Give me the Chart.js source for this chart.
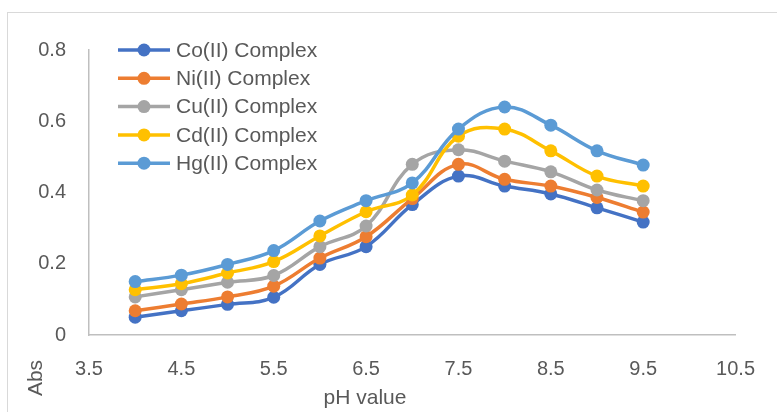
<!DOCTYPE html>
<html>
<head>
<meta charset="utf-8">
<script src="https://cdn.jsdelivr.net/npm/chart.js@4"></script>
<style>
  body { margin: 0; background: #fff; overflow: hidden; }
  #frame { position: absolute; left: 7px; top: 12px; width: 800px; height: 420px; border: 1px solid #d9d9d9; }
  #wrap { position: absolute; left: 0; top: 0; width: 777px; height: 412px; }
</style>
</head>
<body>
<div id="frame"></div>
<div id="wrap"><canvas id="chart" width="777" height="412"></canvas></div>
<script>
// pH values (x) and absorbance for each complex
const phValues = [4, 4.5, 5, 5.5, 6, 6.5, 7, 7.5, 8, 8.5, 9, 9.5];
const coAbs = [0.05, 0.068, 0.086, 0.106, 0.198, 0.248, 0.366, 0.446, 0.418, 0.396, 0.357, 0.317];
const niAbs = [0.068, 0.087, 0.107, 0.137, 0.216, 0.276, 0.383, 0.479, 0.437, 0.418, 0.386, 0.345];
const cuAbs = [0.107, 0.127, 0.148, 0.167, 0.248, 0.306, 0.479, 0.52, 0.488, 0.458, 0.407, 0.377];
const cdAbs = [0.127, 0.144, 0.174, 0.206, 0.278, 0.346, 0.393, 0.558, 0.578, 0.517, 0.446, 0.418];
const hgAbs = [0.15, 0.168, 0.198, 0.237, 0.32, 0.377, 0.427, 0.578, 0.64, 0.589, 0.517, 0.477];

const seriesNames = ["Co(II) Complex", "Ni(II) Complex", "Cu(II) Complex", "Cd(II) Complex", "Hg(II) Complex"];
const seriesColors = ["#4472C4", "#ED7D31", "#A5A5A5", "#FFC000", "#5B9BD5"];
const seriesValues = [coAbs, niAbs, cuAbs, cdAbs, hgAbs];

const xTicks = [3.5, 4.5, 5.5, 6.5, 7.5, 8.5, 9.5, 10.5];
const yTicks = [0, 0.2, 0.4, 0.6, 0.8];

const textColor = "#595959";
const tickFont = "'Liberation Sans Narrow', 'Arial Narrow', 'Liberation Sans', sans-serif";

const datasets = seriesValues.map((vals, i) => ({
    label: seriesNames[i],
    data: vals.map((v, j) => ({x: phValues[j], y: v})),
    borderColor: seriesColors[i],
    backgroundColor: seriesColors[i],
    borderWidth: 3.5,
    pointRadius: 6.5,
    pointBorderWidth: 0,
    tension: 0.4,
    order: seriesValues.length - i
}));

// legend + axis titles drawn inside the plot like Excel does
const overlay = {
    id: "overlay",
    afterDraw(chart) {
        const ctx = chart.ctx;
        ctx.save();
        ctx.font = "21px 'Liberation Sans', Arial, sans-serif";
        ctx.textBaseline = "middle";
        chart.data.datasets.forEach((ds, i) => {
            const y = 50 + i * 28.3;
            ctx.strokeStyle = ds.borderColor;
            ctx.lineWidth = 3.5;
            ctx.beginPath();
            ctx.moveTo(118, y);
            ctx.lineTo(170, y);
            ctx.stroke();
            ctx.fillStyle = ds.borderColor;
            ctx.beginPath();
            ctx.arc(144, y, 6.5, 0, Math.PI * 2);
            ctx.fill();
            ctx.fillStyle = textColor;
            ctx.textAlign = "left";
            ctx.fillText(ds.label, 176, y + 1);
        });

        ctx.font = "21px " + tickFont;
        ctx.textAlign = "center";
        ctx.fillText("pH value", 365, 398);

        ctx.translate(36, 378);
        ctx.rotate(-Math.PI / 2);
        ctx.fillText("Abs", 0, 0);
        ctx.restore();
    }
};

new Chart(document.getElementById("chart"), {
    type: "line",
    data: { datasets: datasets },
    options: {
        animation: false,
        responsive: false,
        layout: { padding: { top: 50, right: 31, left: 0, bottom: 0 } },
        plugins: {
            legend: { display: false },
            tooltip: { enabled: false }
        },
        scales: {
            x: {
                type: "linear",
                min: 3.5,
                max: 10.5,
                afterFit: s => { s.height = 77; },
                afterBuildTicks: s => { s.ticks = xTicks.map(v => ({value: v})); },
                grid: { display: false, drawTicks: false },
                border: { display: true, color: "#bfbfbf", width: 1.5 },
                ticks: {
                    padding: 22,
                    color: textColor,
                    font: { family: tickFont, size: 20 },
                    callback: v => v.toFixed(1)
                }
            },
            y: {
                min: 0,
                max: 0.8,
                afterFit: s => { s.width = 89; },
                afterBuildTicks: s => { s.ticks = yTicks.map(v => ({value: v})); },
                grid: { display: false, drawTicks: false },
                border: { display: true, color: "#bfbfbf", width: 1.5 },
                ticks: {
                    padding: 23,
                    color: textColor,
                    font: { family: tickFont, size: 20 },
                    callback: v => v === 0 ? "0" : v.toFixed(1)
                }
            }
        }
    },
    plugins: [overlay]
});
</script>
</body>
</html>
